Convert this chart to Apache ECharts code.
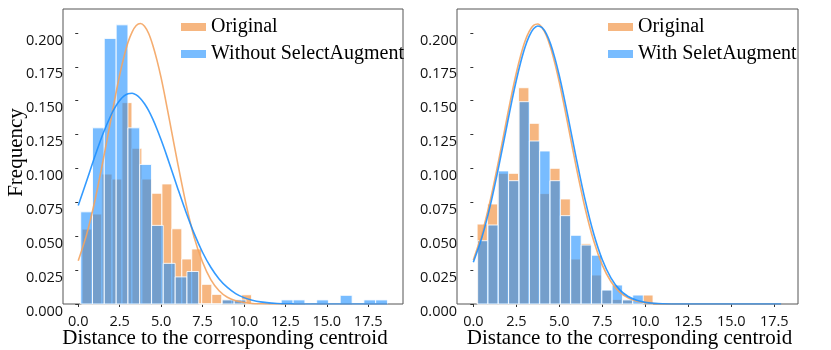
<!DOCTYPE html>
<html lang="en">
<head>
<meta charset="UTF-8">
<title>Distance to centroid histograms</title>
<script src="https://cdn.jsdelivr.net/npm/echarts@6/dist/echarts.min.js"></script>
<style>html,body{margin:0;padding:0;background:#fff;}</style>
</head>
<body>
<div id="main" style="width:831px;height:350px;"></div>
<script>
var xTicks = [0, 2.5, 5, 7.5, 10, 12.5, 15, 17.5];
var yTicks = [0, 0.025, 0.05, 0.075, 0.1, 0.125, 0.15, 0.175, 0.2];

// left panel: Original vs Without SelectAugment
var leftOrigEdges = [0.23, 0.83, 1.43, 2.04, 2.64, 3.24, 3.84, 4.44, 5.05, 5.65, 6.25, 6.85, 7.45, 8.06, 8.66, 9.26, 9.86, 10.46];
var leftOrigFreq = [0.0553, 0.0664, 0.0959, 0.0922, 0.1486, 0.1149, 0.0922, 0.0817, 0.0886, 0.0555, 0.0332, 0.0406, 0.0145, 0.0071, 0.0034, 0.0034, 0.0068];
var leftWithoutEdges = [0.15, 0.86, 1.57, 2.29, 3.00, 3.71, 4.42, 5.13, 5.85, 6.56, 7.27, 7.98, 8.69, 9.41, 10.12, 10.83, 11.54, 12.25, 12.97, 13.68, 14.39, 15.10, 15.81, 16.53, 17.24, 17.95, 18.66];
var leftWithoutFreq = [0.068, 0.130, 0.196, 0.206, 0.130, 0.103, 0.058, 0.030, 0.020, 0.024, 0, 0, 0.003, 0.003, 0, 0, 0, 0.003, 0.003, 0, 0.003, 0, 0.0064, 0, 0.003, 0.003];
var leftFitX = [0, 0.5, 1, 1.5, 2, 2.25, 2.5, 2.75, 3, 3.25, 3.5, 3.75, 4, 4.25, 4.5, 4.75, 5, 5.25, 5.5, 6, 6.5, 7, 7.5, 8, 8.5, 9, 9.5, 10, 10.5, 11, 12, 13, 14, 15, 16, 17, 18, 18.66];
var leftOrigFit = [0.032, 0.051, 0.076, 0.106, 0.138, 0.154, 0.169, 0.182, 0.193, 0.2007, 0.2055, 0.207, 0.205, 0.1996, 0.191, 0.180, 0.167, 0.152, 0.136, 0.104, 0.074, 0.049, 0.031, 0.018, 0.0098, 0.005, 0.0024, 0.0011, 0.0004, 0.0002, 0, 0, 0, 0, 0, 0, 0, 0];
var leftWithoutFit = [0.0727, 0.0906, 0.1088, 0.1258, 0.140, 0.1457, 0.1502, 0.1534, 0.1551, 0.1555, 0.1543, 0.1517, 0.1478, 0.1427, 0.1364, 0.1292, 0.1212, 0.1127, 0.1037, 0.0855, 0.0679, 0.0519, 0.0382, 0.0271, 0.0185, 0.0122, 0.0077, 0.0047, 0.0028, 0.0016, 0.0004, 0.0001, 0, 0, 0, 0, 0, 0];

// right panel: Original vs With SeletAugment
var rightOrigEdges = [0.22, 0.82, 1.42, 2.03, 2.63, 3.23, 3.83, 4.43, 5.04, 5.64, 6.24, 6.84, 7.44, 8.05, 8.65, 9.25, 9.85, 10.45];
var rightOrigFreq = [0.059, 0.0738, 0.0964, 0.0964, 0.1596, 0.1333, 0.0815, 0.1001, 0.0775, 0.0332, 0.0445, 0.0214, 0.0103, 0.0034, 0.0034, 0, 0.0066];
var rightWithEdges = [0.25, 0.85, 1.45, 2.05, 2.66, 3.26, 3.86, 4.46, 5.06, 5.66, 6.27, 6.87, 7.47, 8.07, 8.67, 9.27, 9.88];
var rightWithFreq = [0.0467, 0.0583, 0.0982, 0.091, 0.1493, 0.1203, 0.1129, 0.091, 0.0652, 0.0507, 0.0435, 0.036, 0.0103, 0.014, 0.003, 0.0066];
var rightFitX = [0, 0.5, 1, 1.5, 2, 2.25, 2.5, 2.75, 3, 3.25, 3.5, 3.75, 4, 4.25, 4.5, 4.75, 5, 5.25, 5.5, 6, 6.5, 7, 7.5, 8, 8.5, 9, 9.5, 10, 10.5, 11, 12, 13, 14, 15, 16, 17, 17.9];
var rightOrigFit = [0.0325, 0.0518, 0.0773, 0.1077, 0.1402, 0.1559, 0.1705, 0.1832, 0.1937, 0.2012, 0.2056, 0.2066, 0.2039, 0.198, 0.189, 0.1773, 0.1636, 0.1484, 0.1324, 0.1001, 0.0707, 0.0466, 0.0287, 0.0166, 0.0089, 0.0045, 0.0021, 0.0009, 0.0004, 0.0001, 0, 0, 0, 0, 0, 0, 0];
var rightWithFit = [0.0308, 0.0492, 0.0735, 0.1029, 0.1347, 0.1504, 0.1651, 0.1782, 0.1893, 0.1977, 0.2031, 0.2052, 0.2039, 0.1993, 0.1916, 0.1811, 0.1684, 0.154, 0.1385, 0.1066, 0.0768, 0.0518, 0.0326, 0.0193, 0.0106, 0.0055, 0.0027, 0.0012, 0.0005, 0.0002, 0, 0, 0, 0, 0, 0, 0];

var ORANGE = 'rgba(244,164,96,0.8)';
var BLUE = 'rgba(30,144,255,0.6)';
var ORANGE_LINE = 'rgba(244,164,96,0.9)';
var BLUE_LINE = 'rgba(30,144,255,0.9)';

var myChart = echarts.init(document.getElementById('main'));

function bins(edges, freq) {
    return freq.map(function (f, i) { return [edges[i], edges[i + 1], f]; });
}
function pts(xs, ys) {
    return xs.map(function (x, i) { return [x, ys[i]]; });
}
function histSeries(name, idx, edges, freq, fill) {
    return {
        name: name,
        type: 'custom',
        xAxisIndex: idx,
        yAxisIndex: idx,
        itemStyle: { color: fill },
        encode: { x: [0, 1], y: 2 },
        data: bins(edges, freq),
        renderItem: function (params, api) {
            var a = api.coord([api.value(0), api.value(2)]);
            var b = api.coord([api.value(1), 0]);
            return {
                type: 'rect',
                shape: { x: a[0], y: a[1], width: b[0] - a[0], height: b[1] - a[1] },
                style: { fill: fill, stroke: 'rgba(255,255,255,0.85)', lineWidth: 1 }
            };
        }
    };
}
function fitSeries(name, idx, xs, ys, color) {
    return {
        name: name,
        type: 'line',
        xAxisIndex: idx,
        yAxisIndex: idx,
        data: pts(xs, ys),
        showSymbol: false,
        smooth: 0.3,
        lineStyle: { color: color, width: 1.6 },
        z: 5
    };
}
function xAxisFor(idx, min, max, namePad) {
    return {
        type: 'value', gridIndex: idx, min: min, max: max,
        splitLine: { show: false },
        axisLine: { show: false },
        axisTick: { show: true, customValues: xTicks, length: 3, lineStyle: { color: '#333' } },
        axisLabel: {
            customValues: xTicks, margin: 10, color: '#111',
            fontFamily: 'Open Sans', fontSize: 14.5,
            formatter: function (v) { return v.toFixed(1); }
        },
        name: 'Distance to the corresponding centroid',
        nameLocation: 'middle', nameGap: 24, nameMoveOverlap: false,
        nameTextStyle: { fontFamily: 'Liberation Serif', fontSize: 21, color: '#000', padding: namePad }
    };
}
function yAxisFor(idx, withName) {
    var ax = {
        type: 'value', gridIndex: idx, min: 0, max: 0.2177,
        splitLine: { show: false },
        axisLine: { show: false },
        axisTick: { show: true, customValues: yTicks, length: 3, lineStyle: { color: '#333' } },
        axisLabel: {
            customValues: yTicks, margin: 0, color: '#111',
            fontFamily: 'Open Sans', fontSize: 14.5, verticalAlign: 'top',
            formatter: function (v) { return v.toFixed(3); }
        }
    };
    if (withName) {
        ax.name = 'Frequency';
        ax.nameLocation = 'middle';
        ax.nameGap = 36;
        ax.nameMoveOverlap = false;
        ax.nameTextStyle = { fontFamily: 'Liberation Serif', fontSize: 21, color: '#000', padding: [0, 0, 0, 8] };
    }
    return ax;
}
function legendFor(left, names) {
    return {
        left: left, top: 17, padding: 0, orient: 'vertical', icon: 'rect',
        itemWidth: 25, itemHeight: 8, itemGap: 7, selectedMode: false,
        textStyle: { fontFamily: 'Liberation Serif', fontSize: 20, color: '#000' },
        data: [
            { name: names[0], itemStyle: { color: ORANGE } },
            { name: names[1], itemStyle: { color: BLUE } }
        ]
    };
}

var option = {
    animation: false,
    grid: [
        { left: 63, right: 428, top: 9, bottom: 46, outerBoundsMode: 'none', show: true, borderColor: '#555', borderWidth: 1 },
        { left: 457, right: 33, top: 9, bottom: 46, outerBoundsMode: 'none', show: true, borderColor: '#555', borderWidth: 1 }
    ],
    xAxis: [xAxisFor(0, -0.92, 19.6, [0, 16, 0, 0]), xAxisFor(1, -0.95, 18.88, [0, 0, 0, 4])],
    yAxis: [yAxisFor(0, true), yAxisFor(1, false)],
    legend: [
        legendFor(181, ['Original', 'Without SelectAugment']),
        legendFor(608, ['Original', 'With SeletAugment'])
    ],
    series: [
        histSeries('Original', 0, leftOrigEdges, leftOrigFreq, ORANGE),
        histSeries('Without SelectAugment', 0, leftWithoutEdges, leftWithoutFreq, BLUE),
        fitSeries('Original fit', 0, leftFitX, leftOrigFit, ORANGE_LINE),
        fitSeries('Without fit', 0, leftFitX, leftWithoutFit, BLUE_LINE),
        histSeries('Original', 1, rightOrigEdges, rightOrigFreq, ORANGE),
        histSeries('With SeletAugment', 1, rightWithEdges, rightWithFreq, BLUE),
        fitSeries('Original fit 2', 1, rightFitX, rightOrigFit, ORANGE_LINE),
        fitSeries('With fit', 1, rightFitX, rightWithFit, BLUE_LINE)
    ]
};
myChart.setOption(option);
</script>
</body>
</html>
